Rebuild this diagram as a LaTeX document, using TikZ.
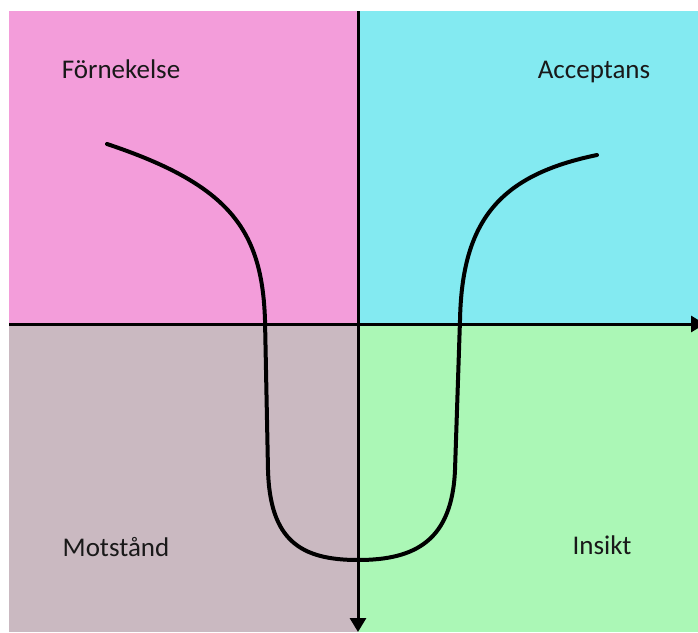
\documentclass[tikz,border=0pt]{standalone}
\usepackage{fontspec}
\setmainfont{Carlito}
\usetikzlibrary{arrows.meta}
\definecolor{qpink}{RGB}{243,157,218}
\definecolor{qcyan}{RGB}{131,234,241}
\definecolor{qgrey}{RGB}{202,185,193}
\definecolor{qgreen}{RGB}{171,247,182}
\tikzset{
  lbl/.style={font=\fontsize{27}{31}\selectfont, anchor=base, inner sep=0pt, text=black!90},
  axis/.style={line width=3pt, -{Triangle[width=16pt,length=14pt]}},
  curveline/.style={line width=4pt, line cap=round}
}
\begin{document}
\begin{tikzpicture}[x=1pt,y=-1pt]
\useasboundingbox (0,0) rectangle (698,632);
\fill[white] (0,0) rectangle (698,632);
\fill[qpink] (9,11) rectangle (358,324);
\fill[qcyan] (358,11) rectangle (698,324);
\fill[qgrey] (9,324) rectangle (358,632);
\fill[qgreen] (358,324) rectangle (698,632);
\node[lbl] (fornekelse) at (121,78) {Förnekelse};
\node[lbl] (acceptans) at (594,78) {Acceptans};
\node[lbl] (motstand) at (116,556) {Motstånd};
\node[lbl] (insikt) at (602,554) {Insikt};
\coordinate (hl) at (9,324);
\coordinate (hr) at (705,324);
\coordinate (vt) at (358,11);
\coordinate (vb) at (358,632);
\draw[axis] (hl) -- (hr);
\draw[axis] (vt) -- (vb);
\coordinate (cstart) at (107,144);
\coordinate (cend) at (597,155);
\draw[curveline] (cstart) .. controls (230,185) and (262,230) .. (265,320)
  -- (268,470) .. controls (270,540) and (300,560) .. (358,560)
  .. controls (416,560) and (452,540) .. (455,470)
  -- (460,320) .. controls (462,220) and (500,175) .. (cend);
\end{tikzpicture}
\end{document}
